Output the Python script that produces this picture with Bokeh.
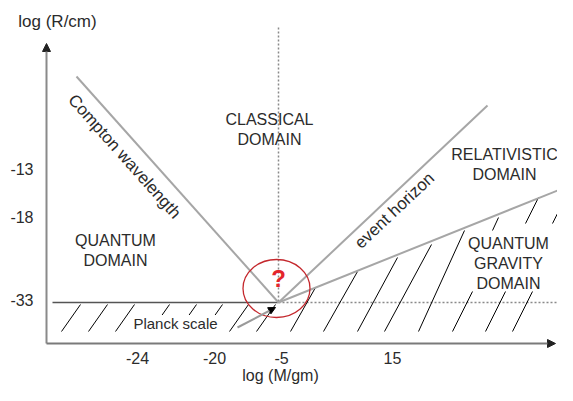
from bokeh.plotting import figure
from bokeh.models import Range1d, Label, Arrow, NormalHead
from bokeh.core.properties import value
from bokeh.embed import file_html
from bokeh.resources import INLINE

FONT = "Liberation Sans"
TXT = "#2b2b2b"

# ---- tick labels (text) and their places on the diagram ----
x_tick_labels = ["-24", "-20", "-5", "15"]
x_tick_pos = [137, 214, 281, 392]
y_tick_labels = ["-13", "-18", "-33"]
y_tick_pos = [168, 216, 299]
x_title = "log (M/gm)"
y_title = "log (R/cm)"

# ---- boundary lines of the diagram (diagram units) ----
compton_x = [76, 278]
compton_y = [76, 302]
horizon_x = [278, 487]
horizon_y = [302, 105]
qg_x = [278, 572]
qg_y = [302, 184]
planck_x = [52, 278]
planck_y = [302, 302]
planck_dot_x = [278, 565]
planck_dot_y = [302, 302]
mid_dot_x = [278, 278]
mid_dot_y = [27, 302]

# ---- hatching ----
hatch_p_x0 = [61, 88, 115, 150, 177, 203, 229, 256]
hatch_q_x0 = [290, 323, 357, 384, 418, 452, 485, 512, 492, 525, 552]
hatch_q_y0 = [331, 331, 331, 331, 331, 331, 331, 331, 230, 223, 223]
hatch_q_x1 = [315, 357, 397, 431, 464, 472, 505, 532, 498, 538, 570]
hatch_q_y1 = [287, 271, 257, 244, 230, 291, 291, 291, 217, 197, 187]

# ---- region names ----
domain_text = ["CLASSICAL\nDOMAIN", "QUANTUM\nDOMAIN", "RELATIVISTIC\nDOMAIN",
               "QUANTUM\nGRAVITY\nDOMAIN"]
domain_x = [269, 115, 504, 508]
domain_y = [129, 250, 164, 263]

p = figure(width=557, height=385, output_backend="svg", toolbar_location=None,
           x_range=Range1d(0, 557), y_range=Range1d(385, 0),
           x_axis_location=None, y_axis_location=None, min_border=0)
p.grid.visible = False
p.outline_line_color = None
p.background_fill_color = "white"
p.border_fill_color = "white"

# tick labels and axis titles
p.text(x=[33] * len(y_tick_pos), y=y_tick_pos, text=y_tick_labels,
       text_font=value(FONT), text_font_size="16px", text_color=TXT,
       text_align="right", text_baseline="middle")
p.text(x=x_tick_pos, y=[357] * len(x_tick_pos), text=x_tick_labels,
       text_font=value(FONT), text_font_size="16px", text_color=TXT,
       text_align="center", text_baseline="middle")
p.text(x=[57], y=[21], text=[y_title], text_font=value(FONT), text_font_size="17px",
       text_color=TXT, text_align="center", text_baseline="middle")
p.text(x=[280], y=[375], text=[x_title], text_font=value(FONT), text_font_size="16px",
       text_color=TXT, text_align="center", text_baseline="alphabetic")

# axes with arrows
p.add_layout(Arrow(x_start=46, y_start=343, x_end=46, y_end=43, line_color="#8a8a8a",
                   line_width=2, end=NormalHead(size=8, fill_color="#222222",
                                                line_color="#222222")))
p.add_layout(Arrow(x_start=46, y_start=343, x_end=555, y_end=343, line_color="#7a7a7a",
                   line_width=2, end=NormalHead(size=8, fill_color="#222222",
                                                line_color="#222222")))

# dotted guides
p.line(mid_dot_x, mid_dot_y, line_color="#8a8a8a", line_width=1.5, line_dash="2 2")
p.line(planck_dot_x, planck_dot_y, line_color="#8a8a8a", line_width=1.5, line_dash="2 2")
# Planck scale line
p.line(planck_x, planck_y, line_color="#555555", line_width=1.5)

# hatching
p.segment(x0=hatch_p_x0, y0=[331] * len(hatch_p_x0),
          x1=[v + 19 for v in hatch_p_x0], y1=[304] * len(hatch_p_x0),
          line_color="black", line_width=1)
p.segment(x0=hatch_q_x0, y0=hatch_q_y0, x1=hatch_q_x1, y1=hatch_q_y1,
          line_color="black", line_width=1)

# boundaries
for xs, ys in ((compton_x, compton_y), (horizon_x, horizon_y), (qg_x, qg_y)):
    p.line(xs, ys, line_color="#a6a6a6", line_width=2)

# domain names
p.text(x=domain_x, y=domain_y, text=domain_text, text_font=value(FONT),
       text_font_size="16px", text_color=TXT, text_align="center",
       text_baseline="middle", text_line_height=1.2)

# rotated labels on lines
p.text(x=[124], y=[156], text=["Compton wavelength"], angle=[-0.842],
       text_font=value(FONT), text_font_size="17px", text_color=TXT,
       text_align="center", text_baseline="middle")
p.text(x=[394], y=[210], text=["event horizon"], angle=[0.756],
       text_font=value(FONT), text_font_size="17px", text_color=TXT,
       text_align="center", text_baseline="middle")

# Planck scale pointer and label
p.add_layout(Arrow(x_start=237, y_start=327, x_end=275, y_end=307, line_color="#9a9a9a",
                   line_width=2, end=NormalHead(size=7, fill_color="black",
                                                line_color="black")))
p.add_layout(Label(x=175, y=323, text="Planck scale", text_align="center",
                   text_baseline="middle", text_font=FONT, text_font_size="15px",
                   text_color=TXT, background_fill_color="white"))

# question mark and circle
p.ellipse(x=[276], y=[288], width=[67], height=[58], fill_color=None,
          line_color="#c4282d", line_width=1.3)
p.text(x=[278], y=[278], text=["?"], text_font=value(FONT), text_font_style="bold",
       text_font_size="24px", text_color="#e3262b", text_align="center",
       text_baseline="middle")

open("out.html", "w").write(file_html(p, INLINE))
